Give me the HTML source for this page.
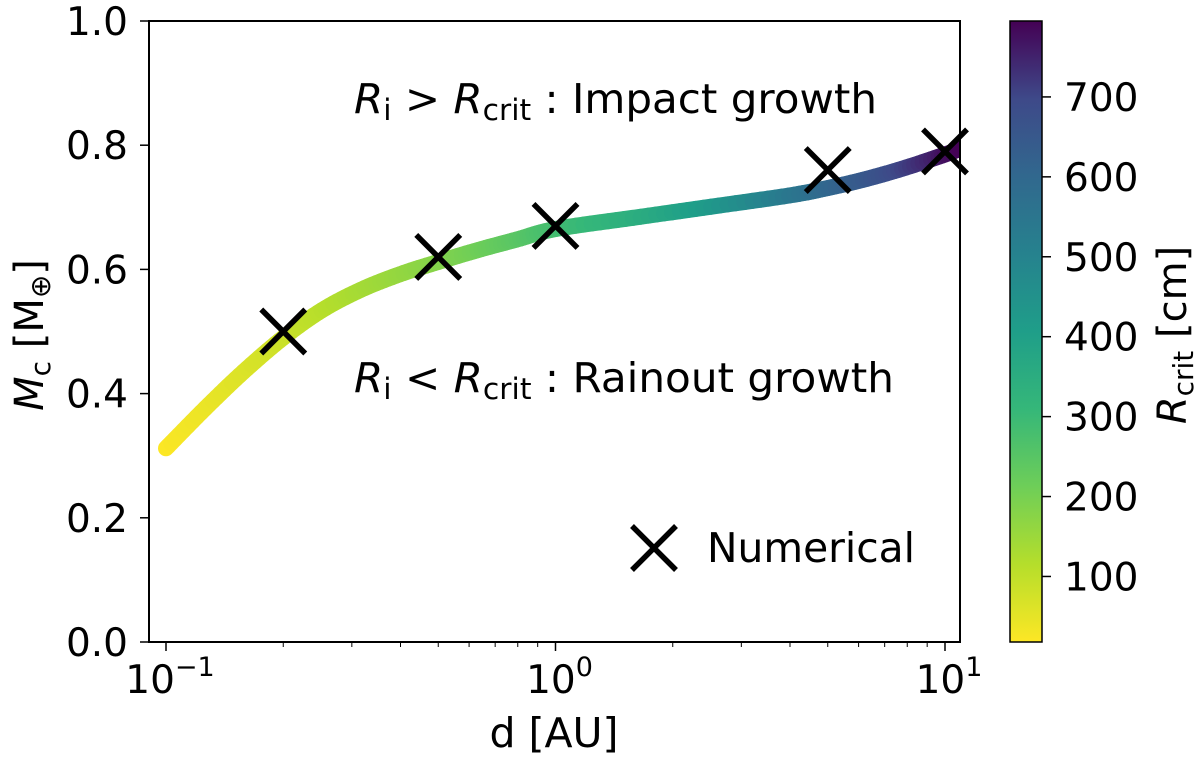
<!DOCTYPE html>
<html><head><meta charset="utf-8"><style>
body{margin:0;background:#fff}
svg text{font-family:"DejaVu Sans","Liberation Sans",sans-serif;fill:#000}
</style></head><body>
<svg id="chart" width="1200" height="761" xmlns="http://www.w3.org/2000/svg">
<defs>
<clipPath id="plotclip"><rect x="149" y="21" width="811" height="621"/></clipPath>
<linearGradient id="cbgrad" x1="0" y1="1" x2="0" y2="0">
<stop offset="0" stop-color="#fde725"/><stop offset="0.125" stop-color="#b5de2b"/><stop offset="0.25" stop-color="#6ece58"/><stop offset="0.375" stop-color="#35b779"/><stop offset="0.5" stop-color="#1f9e89"/><stop offset="0.625" stop-color="#26828e"/><stop offset="0.75" stop-color="#31688e"/><stop offset="0.875" stop-color="#3e4989"/><stop offset="1" stop-color="#440154"/>
</linearGradient>
</defs>
<g id="curve" clip-path="url(#plotclip)"></g>
<g id="marks"></g>
<rect x="149" y="21" width="811" height="621" fill="none" stroke="#000" stroke-width="2"/>
<g id="xaxis"></g>
<g id="yaxis"></g>
<text x="554" y="747" font-size="41" text-anchor="middle">d  [AU]</text>
<text transform="translate(43,335) rotate(-90)" font-size="40" text-anchor="middle"><tspan font-style="italic">M</tspan><tspan font-size="28" dy="7">c</tspan><tspan dy="-7"> [M</tspan><tspan font-size="28" dy="7">⊕</tspan><tspan dy="-7">]</tspan></text>
<text x="354" y="113" font-size="41" textLength="523" lengthAdjust="spacingAndGlyphs"><tspan font-style="italic">R</tspan><tspan font-size="29" dy="7">i</tspan><tspan dy="-7"> &gt; </tspan><tspan font-style="italic">R</tspan><tspan font-size="29" dy="7">crit</tspan><tspan dy="-7"> : Impact growth</tspan></text>
<text x="354" y="392" font-size="41" textLength="540" lengthAdjust="spacingAndGlyphs"><tspan font-style="italic">R</tspan><tspan font-size="29" dy="7">i</tspan><tspan dy="-7"> &lt; </tspan><tspan font-style="italic">R</tspan><tspan font-size="29" dy="7">crit</tspan><tspan dy="-7"> : Rainout growth</tspan></text>
<g>
<path d="M632 526 L676 570 M676 526 L632 570" stroke="#000" stroke-width="5.5"/>
<text x="707" y="562" font-size="41" textLength="208" lengthAdjust="spacingAndGlyphs">Numerical</text>
</g>
<rect x="1010" y="21" width="32" height="621" fill="url(#cbgrad)" stroke="#000" stroke-width="1.5"/>
<g id="cbaxis"></g>
<text transform="translate(1186,335) rotate(-90)" font-size="40" text-anchor="middle"><tspan font-style="italic">R</tspan><tspan font-size="28" dy="7">crit</tspan><tspan dy="-7"> [cm]</tspan></text>
</svg>
<script>
const dCurve=[0.1,0.126,0.158,0.2,0.251,0.316,0.398,0.5,0.631,0.794,1,1.58,2.51,3.98,5,6.31,7.94,10,11];
const mCurve=[0.312,0.376,0.435,0.490,0.534,0.567,0.592,0.612,0.631,0.648,0.665,0.683,0.701,0.719,0.731,0.746,0.764,0.785,0.795];
const rCurve=[18,40,62,85,110,135,158,180,210,245,280,340,420,540,600,650,710,775,795];
const dNum=[0.2,0.5,1,5,10];
const mNum=[0.50,0.62,0.67,0.76,0.79];
const yTicks=[0,0.2,0.4,0.6,0.8,1.0];
const yTickLabels=["0.0","0.2","0.4","0.6","0.8","1.0"];
const cbTicks=[100,200,300,400,500,600,700];
const cbTickLabels=["100","200","300","400","500","600","700"];
const xMajor=[-1,0,1];
const xMajorSup=["−1","0","1"];
const NS="http://www.w3.org/2000/svg";
const X=d=>166+(Math.log10(d)+1)*389.5;
const Y=m=>642-m*621;
const CMIN=18,CMAX=795;
const CB=v=>642-(v-CMIN)/(CMAX-CMIN)*621;
const vir=[[253,231,37],[181,222,43],[110,206,88],[53,183,121],[31,158,137],[38,130,142],[49,104,142],[62,73,137],[68,1,84]];
function cmap(v){let t=Math.max(0,Math.min(1,(v-CMIN)/(CMAX-CMIN)))*8;let i=Math.min(7,Math.floor(t)),f=t-i;
const c=vir[i].map((a,k)=>Math.round(a+(vir[i+1][k]-a)*f));return `rgb(${c})`;}
function mk(tag,attrs,parent){const e=document.createElementNS(NS,tag);for(const k in attrs)e.setAttribute(k,attrs[k]);parent.appendChild(e);return e;}
const P=dCurve.map((d,i)=>[X(d),Y(mCurve[i]),rCurve[i]]);
const curve=document.getElementById('curve');
function cr(p0,p1,p2,p3,t){const t2=t*t,t3=t2*t;return 0.5*((2*p1)+(-p0+p2)*t+(2*p0-5*p1+4*p2-p3)*t2+(-p0+3*p1-3*p2+p3)*t3);}
let pts=[];
for(let i=0;i<P.length-1;i++){
  const p0=P[Math.max(0,i-1)],p1=P[i],p2=P[i+1],p3=P[Math.min(P.length-1,i+2)];
  for(let j=0;j<10;j++){const t=j/10;pts.push([cr(p0[0],p1[0],p2[0],p3[0],t),cr(p0[1],p1[1],p2[1],p3[1],t),p1[2]+(p2[2]-p1[2])*t]);}
}
pts.push(P[P.length-1]);
for(let i=0;i<pts.length-1;i++){
  const a=pts[i],b=pts[i+1];
  const s=mk('line',{x1:a[0],y1:a[1],x2:b[0],y2:b[1],stroke:cmap((a[2]+b[2])/2),'stroke-width':16,'stroke-linecap':'round'},curve);
  
  
}
const marks=document.getElementById('marks');
dNum.forEach((d,i)=>{const x=X(d),y=Y(mNum[i]),h=22;
  const p=mk('path',{d:`M${x-h} ${y-h} L${x+h} ${y+h} M${x+h} ${y-h} L${x-h} ${y+h}`,stroke:'#000','stroke-width':5.5},marks);
  
  
});
const xa=document.getElementById('xaxis');
xMajor.forEach((e,i)=>{const x=X(Math.pow(10,e));
  const t=mk('line',{x1:x,x2:x,y1:642,y2:651,stroke:'#000','stroke-width':1.5},xa);
  
  
  const tx=mk('text',{x:x+4,y:693,'font-size':39,'text-anchor':'middle'},xa);
  
  
  tx.innerHTML=`10<tspan font-size="27" dy="-17">${xMajorSup[i]}</tspan>`;
});
for(let e=-2;e<=1;e++)for(let k=2;k<=9;k++){const d=k*Math.pow(10,e);const x=X(d);if(x<149||x>960)continue;
  const t=mk('line',{x1:x,x2:x,y1:642,y2:647,stroke:'#000','stroke-width':1},xa);
  
  }
const ya=document.getElementById('yaxis');
yTicks.forEach((v,i)=>{const y=Y(v);
  const t=mk('line',{x1:140,x2:149,y1:y,y2:y,stroke:'#000','stroke-width':1.5},ya);
  
  
  const tx=mk('text',{x:128,y:y+14,'font-size':39,'text-anchor':'end'},ya);
  
  
  tx.textContent=yTickLabels[i];});
const cba=document.getElementById('cbaxis');
cbTicks.forEach((v,i)=>{const y=CB(v);
  const t=mk('line',{x1:1042,x2:1051,y1:y,y2:y,stroke:'#000','stroke-width':1.5},cba);
  
  
  const tx=mk('text',{x:1064,y:y+14,'font-size':39},cba);
  
  
  tx.textContent=cbTickLabels[i];});
</script>
</body></html>
